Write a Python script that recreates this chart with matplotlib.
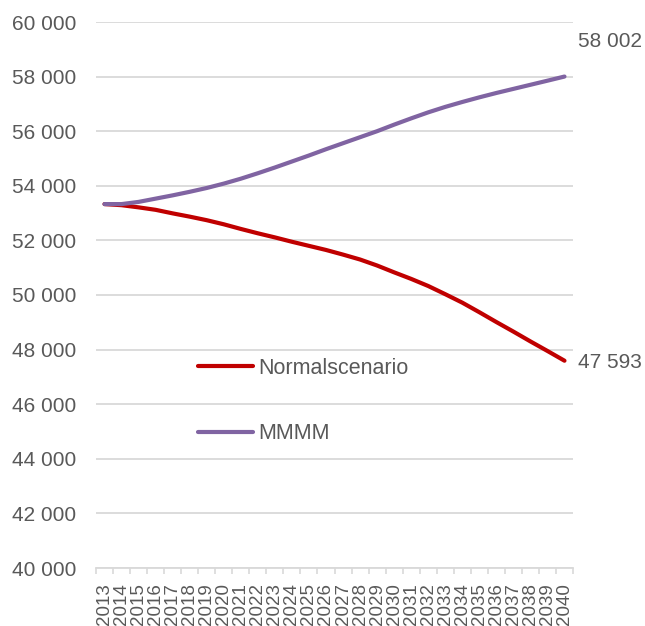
import matplotlib
matplotlib.use("Agg")
import matplotlib.pyplot as plt
from matplotlib.ticker import FixedLocator, FuncFormatter

years = [str(y) for y in range(2013, 2041)]
normal = [53330, 53290, 53210, 53120, 52990, 52870, 52740, 52590, 52420, 52260,
          52110, 51950, 51800, 51650, 51480, 51300, 51080, 50830, 50590, 50330,
          50030, 49720, 49370, 49010, 48660, 48300, 47950, 47593]
mmmm = [53330, 53330, 53410, 53530, 53650, 53780, 53920, 54080, 54260, 54460,
        54670, 54890, 55110, 55340, 55560, 55780, 56000, 56240, 56470, 56690,
        56890, 57070, 57240, 57400, 57550, 57700, 57850, 58002]
series_names = ["Normalscenario", "MMMM"]
end_labels = ["47 593", "58 002"]
yticks = list(range(40000, 60001, 2000))

plt.rcParams['font.family'] = ['Liberation Sans', 'DejaVu Sans']
TXT = '#595959'
FS = 15

fig = plt.figure(figsize=(6.45, 6.26), dpi=100)
ax = fig.add_axes([96/645, 1-568/626, (573-96)/645, (568-22)/626])

x = list(range(len(years)))
l1, = ax.plot(x, normal, color='#C00000', lw=3.0, solid_capstyle='round', label=series_names[0])
l2, = ax.plot(x, mmmm, color='#8064A2', lw=3.0, solid_capstyle='round', label=series_names[1])

ax.set_xlim(-0.5, len(years) - 0.5)
ax.set_ylim(40000, 60000)
ax.set_yticks(yticks)
ax.yaxis.set_major_formatter(FuncFormatter(lambda v, p: f"{int(v):,}".replace(",", " ")))
ax.grid(axis='y', color='#D9D9D9', lw=1.3)
ax.set_axisbelow(True)
for s in ['left', 'right', 'top']:
    ax.spines[s].set_visible(False)
ax.spines['bottom'].set_color('#D9D9D9')
ax.spines['bottom'].set_linewidth(1.3)

ax.set_xticks(x)
ax.set_xticklabels(years, rotation=90, va='top', ha='center')
ax.xaxis.set_minor_locator(FixedLocator([i - 0.5 for i in range(len(years) + 1)]))
ax.tick_params(axis='x', which='major', length=0, pad=11, labelsize=13.5, labelcolor=TXT)
ax.tick_params(axis='x', which='minor', length=4, width=1.2, color='#D9D9D9')
ax.tick_params(axis='y', length=0, pad=14, labelsize=FS, labelcolor=TXT)

ax.annotate(end_labels[1], xy=(x[-1], mmmm[-1]), xytext=(10, 25), textcoords='offset points',
            ha='left', va='center', fontsize=FS, color=TXT, annotation_clip=False)
ax.annotate(end_labels[0], xy=(x[-1], normal[-1]), xytext=(10, -1), textcoords='offset points',
            ha='left', va='center', fontsize=FS, color=TXT, annotation_clip=False)

leg = ax.legend(handles=[l1, l2], loc='upper left', bbox_to_anchor=(198/645, 1-358/626),
                bbox_transform=fig.transFigure, frameon=False, fontsize=15.5,
                handlelength=2.55, handletextpad=0.25, labelspacing=2.05,
                borderpad=0, borderaxespad=0)
for t in leg.get_texts():
    t.set_color(TXT)

fig.savefig('out.png', dpi=100)
